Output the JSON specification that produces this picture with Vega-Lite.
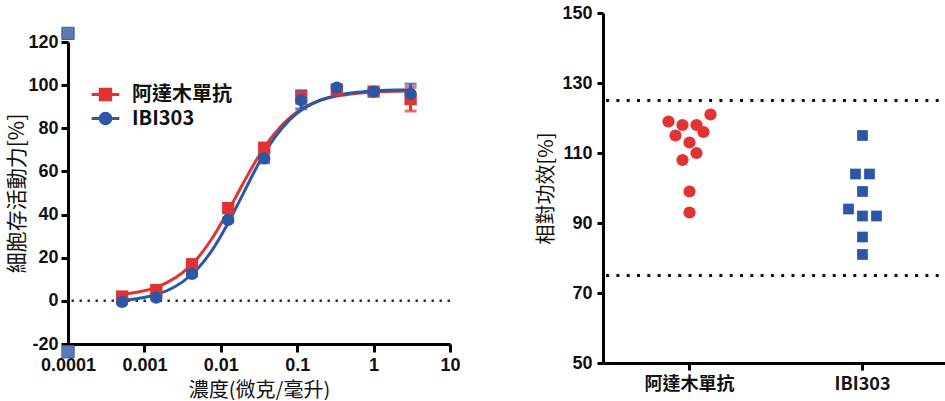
{
  "$schema": "https://vega.github.io/schema/vega-lite/v6.json",
  "padding": {"left": 6, "top": 4, "right": 0, "bottom": 0},
  "background": "white",
  "spacing": 75,
  "resolve": {"scale": {"shape": "independent", "size": "independent"}},
  "config": {
    "view": {"stroke": null},
    "axis": {
      "grid": false,
      "domainColor": "#000000",
      "domainWidth": 3,
      "tickColor": "#000000",
      "tickWidth": 3,
      "labelFont": "Liberation Sans, Noto Sans CJK TC",
      "labelFontSize": 18,
      "labelFontWeight": "bold",
      "labelColor": "#111111",
      "titleFont": "Noto Sans CJK TC",
      "titleFontWeight": "normal",
      "titleFontSize": 20,
      "titleColor": "#111111"
    }
  },
  "datasets": {
    "curve": [
      {"series": "阿達木單抗", "conc": 0.000501, "v": 2.9},
      {"series": "阿達木單抗", "conc": 0.000794, "v": 3.96},
      {"series": "阿達木單抗", "conc": 0.001259, "v": 5.7},
      {"series": "阿達木單抗", "conc": 0.001995, "v": 8.6},
      {"series": "阿達木單抗", "conc": 0.003162, "v": 13.1},
      {"series": "阿達木單抗", "conc": 0.005012, "v": 20.0},
      {"series": "阿達木單抗", "conc": 0.007943, "v": 29.7},
      {"series": "阿達木單抗", "conc": 0.012589, "v": 41.8},
      {"series": "阿達木單抗", "conc": 0.019953, "v": 55.0},
      {"series": "阿達木單抗", "conc": 0.031623, "v": 67.3},
      {"series": "阿達木單抗", "conc": 0.050119, "v": 77.4},
      {"series": "阿達木單抗", "conc": 0.079433, "v": 84.8},
      {"series": "阿達木單抗", "conc": 0.125893, "v": 89.8},
      {"series": "阿達木單抗", "conc": 0.199526, "v": 92.9},
      {"series": "阿達木單抗", "conc": 0.316228, "v": 94.8},
      {"series": "阿達木單抗", "conc": 0.501187, "v": 95.9},
      {"series": "阿達木單抗", "conc": 0.794328, "v": 96.6},
      {"series": "阿達木單抗", "conc": 1.258925, "v": 97.0},
      {"series": "阿達木單抗", "conc": 1.995262, "v": 97.2},
      {"series": "阿達木單抗", "conc": 3.019952, "v": 97.3},
      {"series": "IBI303", "conc": 0.000501, "v": 0.3},
      {"series": "IBI303", "conc": 0.000794, "v": 1.0},
      {"series": "IBI303", "conc": 0.001259, "v": 2.4},
      {"series": "IBI303", "conc": 0.001995, "v": 4.8},
      {"series": "IBI303", "conc": 0.003162, "v": 8.8},
      {"series": "IBI303", "conc": 0.005012, "v": 15.0},
      {"series": "IBI303", "conc": 0.007943, "v": 24.2},
      {"series": "IBI303", "conc": 0.012589, "v": 36.3},
      {"series": "IBI303", "conc": 0.019953, "v": 50.2},
      {"series": "IBI303", "conc": 0.031623, "v": 63.9},
      {"series": "IBI303", "conc": 0.050119, "v": 75.4},
      {"series": "IBI303", "conc": 0.079433, "v": 83.9},
      {"series": "IBI303", "conc": 0.125893, "v": 89.5},
      {"series": "IBI303", "conc": 0.199526, "v": 93.0},
      {"series": "IBI303", "conc": 0.316228, "v": 95.15},
      {"series": "IBI303", "conc": 0.501187, "v": 96.4},
      {"series": "IBI303", "conc": 0.794328, "v": 97.1},
      {"series": "IBI303", "conc": 1.258925, "v": 97.5},
      {"series": "IBI303", "conc": 1.995262, "v": 97.7},
      {"series": "IBI303", "conc": 3.019952, "v": 97.8}
    ],
    "pts": [
      {"series": "阿達木單抗", "conc": 0.00051, "v": 2, "lo": 1, "hi": 3},
      {"series": "阿達木單抗", "conc": 0.00143, "v": 5, "lo": 4, "hi": 6},
      {"series": "阿達木單抗", "conc": 0.0042, "v": 17, "lo": 15.5, "hi": 18.5},
      {"series": "阿達木單抗", "conc": 0.0125, "v": 43, "lo": 41.5, "hi": 44.5},
      {"series": "阿達木單抗", "conc": 0.037, "v": 71, "lo": 69.5, "hi": 72.5},
      {"series": "阿達木單抗", "conc": 0.113, "v": 94.5, "lo": 91.5, "hi": 97.5},
      {"series": "阿達木單抗", "conc": 0.33, "v": 98, "lo": 97, "hi": 99},
      {"series": "阿達木單抗", "conc": 1, "v": 97, "lo": 96, "hi": 98},
      {"series": "阿達木單抗", "conc": 3.05, "v": 93.5, "lo": 88, "hi": 99},
      {"series": "IBI303", "conc": 0.00051, "v": -0.5, "lo": -1.5, "hi": 0.5},
      {"series": "IBI303", "conc": 0.00143, "v": 1.5, "lo": 0.5, "hi": 2.5},
      {"series": "IBI303", "conc": 0.0042, "v": 12.5, "lo": 11.5, "hi": 13.5},
      {"series": "IBI303", "conc": 0.0125, "v": 37.5, "lo": 36.5, "hi": 38.5},
      {"series": "IBI303", "conc": 0.037, "v": 66, "lo": 64, "hi": 68},
      {"series": "IBI303", "conc": 0.113, "v": 93, "lo": 89, "hi": 97},
      {"series": "IBI303", "conc": 0.33, "v": 98.8, "lo": 97.8, "hi": 99.8},
      {"series": "IBI303", "conc": 1, "v": 97, "lo": 96, "hi": 98},
      {"series": "IBI303", "conc": 3.05, "v": 96, "lo": 91.5, "hi": 100.5}
    ],
    "corner": [
      {"conc": 0.0001, "v": 124},
      {"conc": 0.0001, "v": -23.6}
    ],
    "pot": [
      {"group": "阿達木單抗", "v": 119, "slot": -3},
      {"group": "阿達木單抗", "v": 118, "slot": -1},
      {"group": "阿達木單抗", "v": 118, "slot": 1},
      {"group": "阿達木單抗", "v": 121, "slot": 3},
      {"group": "阿達木單抗", "v": 115, "slot": -2},
      {"group": "阿達木單抗", "v": 116, "slot": 2},
      {"group": "阿達木單抗", "v": 113, "slot": 0},
      {"group": "阿達木單抗", "v": 110, "slot": 1},
      {"group": "阿達木單抗", "v": 108, "slot": -1},
      {"group": "阿達木單抗", "v": 99, "slot": 0},
      {"group": "阿達木單抗", "v": 93, "slot": 0},
      {"group": "IBI303", "v": 115, "slot": 0},
      {"group": "IBI303", "v": 104, "slot": -1},
      {"group": "IBI303", "v": 104, "slot": 1},
      {"group": "IBI303", "v": 99, "slot": 0},
      {"group": "IBI303", "v": 94, "slot": -2},
      {"group": "IBI303", "v": 92, "slot": 0},
      {"group": "IBI303", "v": 92, "slot": 2},
      {"group": "IBI303", "v": 86, "slot": 0},
      {"group": "IBI303", "v": 81, "slot": 0}
    ],
    "limits": [{"lim": 125}, {"lim": 75}]
  },
  "hconcat": [
    {
      "spacing": 0,
      "vconcat": [
        {
          "width": 382,
          "height": 12,
          "data": {"values": [{"a": 1}]},
          "mark": {"type": "point", "opacity": 0}
        },
        {
          "width": 382,
          "height": 302,
          "encoding": {
            "x": {
              "field": "conc", "type": "quantitative",
              "scale": {"type": "log", "domain": [0.0001, 10], "nice": false},
              "axis": {"values": [0.0001, 0.001, 0.01, 0.1, 1, 10], "format": "~g", "tickSize": 8, "labelPadding": 4, "title": "濃度(微克/毫升)", "titlePadding": 6, "titleFontSize": 20, "labelFlush": false}
            },
            "y": {
              "field": "v", "type": "quantitative",
              "scale": {"domain": [-20, 120], "nice": false, "zero": false},
              "axis": {"values": [-20, 0, 20, 40, 60, 80, 100, 120], "labelExpr": "'' + datum.value", "tickSize": 7, "labelPadding": 3, "title": "細胞存活動力[%]", "titlePadding": 0, "titleFontSize": 21}
            }
          },
          "resolve": {"legend": {"color": "independent", "shape": "independent"}},
          "layer": [
            {
              "data": {"values": [{"z": 0}]},
              "mark": {"type": "rule", "strokeDash": [2.5, 5.5], "strokeWidth": 2.5, "color": "#333333"},
              "encoding": {"y": {"field": "z", "type": "quantitative"}, "x": null}
            },
            {
              "data": {"name": "curve"},
              "mark": {"type": "line", "strokeWidth": 3, "interpolate": "monotone"},
              "encoding": {
                "color": {
                  "field": "series", "type": "nominal",
                  "scale": {"domain": ["阿達木單抗", "IBI303"], "range": ["#E23333", "#2A57A6"]},
                  "legend": {
                    "title": null, "orient": "none", "legendX": 27, "legendY": 42, "padding": 0,
                    "symbolSize": 300, "symbolStrokeWidth": 3,
                    "labelFont": "Noto Sans CJK TC, Liberation Sans", "labelFontSize": 20, "labelFontWeight": "bold", "labelColor": "#111111",
                    "labelOffset": 16, "rowPadding": 1,
                    "encode": {
                      "symbols": {
                        "update": {
                          "shape": {"signal": "datum.value === '阿達木單抗' ? 'M-1.6,0H1.6M-0.6,-0.6H0.6V0.6H-0.6Z' : 'M-1.6,0H1.6M0.62,0A0.62,0.62,0,1,1,-0.62,0A0.62,0.62,0,1,1,0.62,0Z'"},
                          "fill": {"signal": "datum.value === '阿達木單抗' ? '#E23333' : '#2A57A6'"},
                          "stroke": {"signal": "datum.value === '阿達木單抗' ? '#E23333' : '#2A57A6'"},
                          "strokeWidth": {"value": 3},
                          "size": {"value": 300},
                          "opacity": {"value": 1}
                        }
                      }
                    }
                  }
                }
              }
            },
            {
              "data": {"name": "pts"},
              "mark": {"type": "errorbar", "ticks": {"size": 12, "thickness": 3}, "thickness": 3},
              "encoding": {
                "y": {"field": "lo", "type": "quantitative"},
                "y2": {"field": "hi"},
                "color": {"field": "series", "type": "nominal", "scale": {"domain": ["阿達木單抗", "IBI303"], "range": ["#E23333", "#2A57A6"]}, "legend": null}
              }
            },
            {
              "data": {"name": "pts"},
              "mark": {"type": "point", "filled": true, "opacity": 1},
              "encoding": {
                "color": {"field": "series", "type": "nominal", "scale": {"domain": ["阿達木單抗", "IBI303"], "range": ["#E23333", "#2A57A6"]}, "legend": null},
                "shape": {"field": "series", "type": "nominal", "scale": {"domain": ["阿達木單抗", "IBI303"], "range": ["square", "circle"]}, "legend": null},
                "size": {"value": 150}
              }
            },
            {
              "data": {"name": "corner"},
              "mark": {"type": "point", "shape": "square", "filled": true, "fill": "#5B7BB6", "stroke": "#3E5E98", "strokeWidth": 1, "opacity": 1, "size": 150}
            }
          ]
        }
      ]
    },
    {
      "width": 346,
      "height": 350,
      "layer": [
        {
          "data": {"name": "limits"},
          "mark": {"type": "rule", "strokeDash": [3, 7.3], "strokeWidth": 3, "color": "#111111"},
          "encoding": {"y": {"field": "lim", "type": "quantitative", "scale": {"domain": [50, 150], "nice": false, "zero": false}}}
        },
        {
          "data": {"name": "pot"},
          "mark": {"type": "point", "filled": true, "opacity": 1},
          "encoding": {
            "x": {
              "field": "group", "type": "nominal",
              "scale": {"type": "band", "domain": ["阿達木單抗", "IBI303"], "paddingInner": 0, "paddingOuter": 0},
              "axis": {"title": null, "labelAngle": 0, "tickSize": 7, "labelPadding": 5, "labelFont": "Noto Sans CJK TC, Liberation Sans", "labelFontSize": 18}
            },
            "xOffset": {"field": "slot", "type": "quantitative", "scale": {"domain": [-12.36, 12.36]}},
            "y": {
              "field": "v", "type": "quantitative",
              "scale": {"domain": [50, 150], "nice": false, "zero": false},
              "axis": {"values": [50, 70, 90, 110, 130, 150], "tickSize": 6, "labelPadding": 5, "title": "相對功效[%]", "titlePadding": 5}
            },
            "color": {"field": "group", "type": "nominal", "scale": {"domain": ["阿達木單抗", "IBI303"], "range": ["#E23333", "#2A57A6"]}, "legend": null},
            "shape": {"field": "group", "type": "nominal", "scale": {"domain": ["阿達木單抗", "IBI303"], "range": ["circle", "square"]}, "legend": null},
            "size": {"field": "group", "type": "nominal", "scale": {"domain": ["阿達木單抗", "IBI303"], "range": [150, 115]}, "legend": null}
          }
        }
      ]
    }
  ]
}
